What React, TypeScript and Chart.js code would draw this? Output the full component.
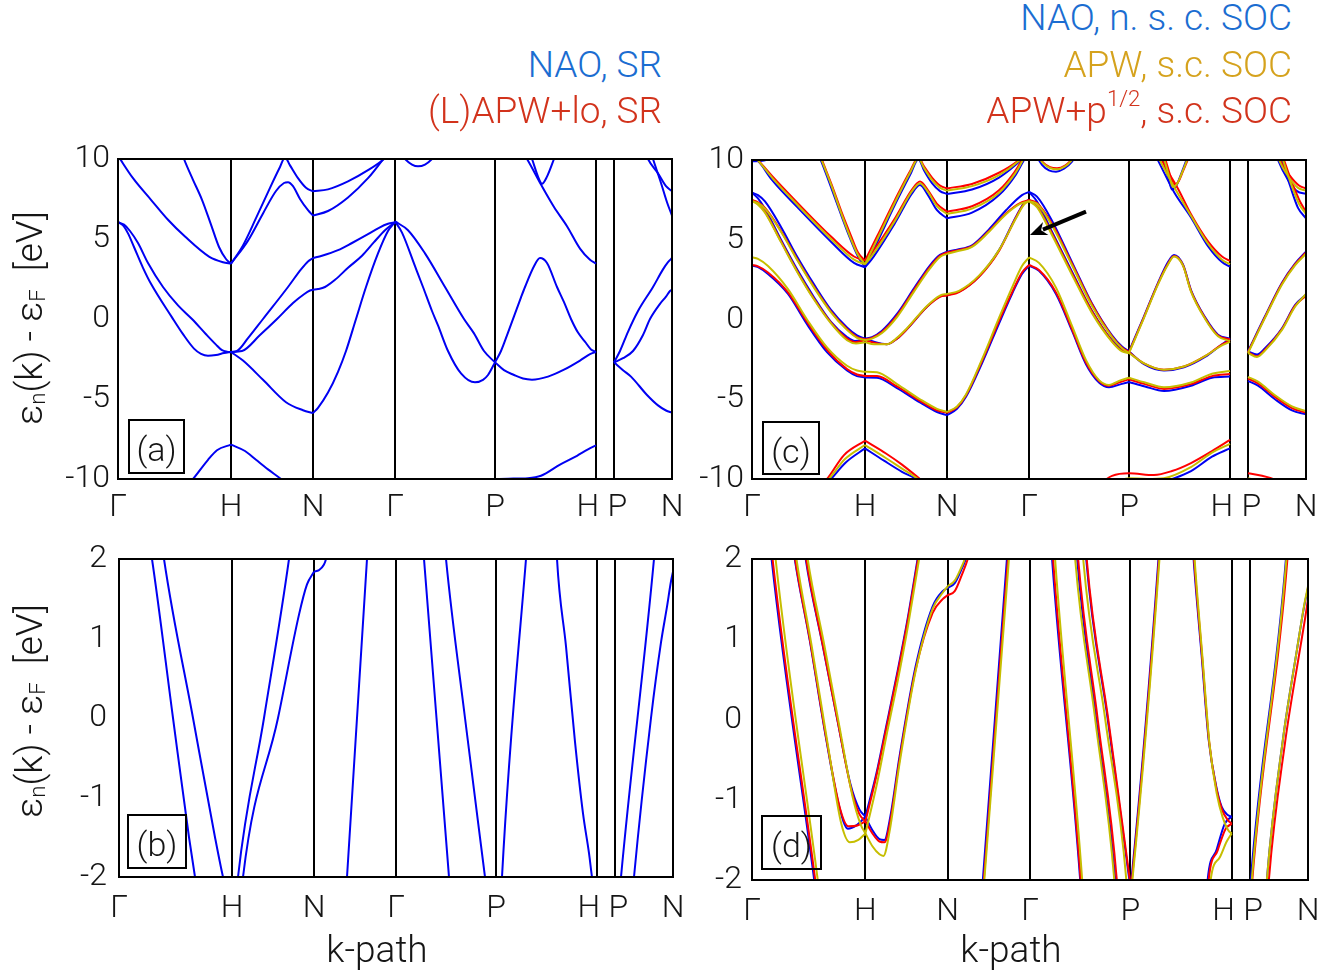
import React, { useEffect, useRef } from 'react';
import { Chart, registerables } from 'chart.js';

Chart.register(...registerables);

type Pt = [number, number];

const FONT = "Roboto, 'Open Sans', Lato, 'Liberation Sans', sans-serif";

// ---- k-path (high-symmetry points) ----
const kTicks = [0, 1.13, 1.95, 2.77, 3.77, 4.78, 4.96, 5.54];
const kLabels = ['Γ', 'H', 'N', 'Γ', 'P', 'H', 'P', 'N'];
const eTicksFull = [-10, -5, 0, 5, 10];
const eTicksZoom = [-2, -1, 0, 1, 2];

// ---- panel (a): NAO, SR (blue) ----
const bandsA_SR: Pt[][] = [
  [[0.45, -12], [0.6, -11], [0.75, -10], [0.9, -8.8], [0.99, -8.2], [1.13, -7.85]],
  [[1.13, -7.85], [1.27, -8.25], [1.38, -8.8], [1.5, -9.4], [1.63, -10], [1.8, -10.9]],
  [[3.5, -10.6], [3.7, -10.05], [3.77, -10.0]],
  [[3.77, -10.0], [3.9, -9.98], [4.1, -9.95], [4.23, -9.8], [4.42, -9.1], [4.59, -8.55], [4.7, -8.15], [4.78, -7.9]],
  [[4.96, -9.98], [5.05, -10.2], [5.2, -10.8]],
  [[0, 6.05], [0.05, 5.85], [0.1, 5.35], [0.16, 4.5], [0.25, 3.2], [0.33, 2.2], [0.54, 0.1], [0.65, -0.95], [0.76, -1.85], [0.83, -2.18], [0.9, -2.3], [0.98, -2.25], [1.06, -2.13], [1.13, -2.06]],
  [[0, 6.05], [0.06, 5.9], [0.12, 5.5], [0.2, 4.75], [0.3, 3.5], [0.45, 2.0], [0.6, 0.85], [0.74, 0.0], [0.88, -0.95], [0.98, -1.6], [1.04, -1.95], [1.09, -2.04], [1.13, -2.06]],
  [[0, 10.2], [0.15, 8.8], [0.33, 7.45], [0.5, 6.2], [0.67, 5.15], [0.91, 3.9], [1.05, 3.55], [1.13, 3.46]],
  [[0.58, 11.5], [0.66, 10.0], [0.75, 8.7], [0.84, 7.45], [0.93, 5.9], [1.01, 4.5], [1.08, 3.75], [1.13, 3.46]],
  [[1.13, -2.06], [1.25, -2.6], [1.45, -3.8], [1.68, -5.2], [1.85, -5.7], [1.95, -5.88]],
  [[1.13, -2.06], [1.19, -2.0], [1.3, -1.2], [1.45, 0.0], [1.7, 2.0], [1.83, 3.1], [1.9, 3.6], [1.95, 3.81]],
  [[1.13, -2.06], [1.24, -2.0], [1.42, -1.0], [1.59, 0.0], [1.75, 1.0], [1.86, 1.55], [1.92, 1.78], [1.95, 1.83]],
  [[1.13, 3.46], [1.25, 4.6], [1.38, 6.3], [1.52, 8.2], [1.62, 9.5], [1.67, 10.1], [1.72, 9.6], [1.8, 8.8], [1.88, 8.2], [1.95, 7.98]],
  [[1.13, 3.46], [1.3, 4.9], [1.45, 6.6], [1.58, 8.0], [1.66, 8.5], [1.7, 8.55], [1.75, 8.3], [1.82, 7.5], [1.9, 6.8], [1.95, 6.46]],
  [[1.95, -5.88], [2.0, -5.55], [2.1, -4.6], [2.2, -3.3], [2.28, -2.0], [2.38, 0.0], [2.48, 2.0], [2.6, 4.1], [2.7, 5.5], [2.77, 6.05]],
  [[1.95, 3.81], [2.04, 3.95], [2.2, 4.3], [2.34, 4.75], [2.5, 5.3], [2.61, 5.7], [2.7, 5.95], [2.77, 6.05]],
  [[1.95, 1.83], [2.0, 1.87], [2.07, 2.0], [2.17, 2.45], [2.3, 3.2], [2.44, 3.95], [2.56, 4.8], [2.67, 5.55], [2.77, 6.05]],
  [[1.95, 7.98], [2.1, 8.1], [2.3, 8.6], [2.5, 9.3], [2.66, 10.0], [2.72, 10.4]],
  [[1.95, 6.46], [2.1, 6.75], [2.3, 7.6], [2.5, 8.8], [2.64, 9.9], [2.72, 10.6]],
  [[2.77, 6.1], [2.84, 5.4], [2.97, 3.3], [3.05, 2.0], [3.14, 0.5], [3.2, -0.4], [3.3, -2.0], [3.43, -3.4], [3.57, -3.96], [3.65, -3.8], [3.7, -3.5], [3.77, -2.71]],
  [[2.77, 6.1], [2.9, 5.55], [3.07, 4.1], [3.27, 2.0], [3.46, 0.0], [3.56, -0.9], [3.66, -2.0], [3.77, -2.71]],
  [[2.83, 10.3], [2.87, 10.0], [2.94, 9.65], [3.0, 9.54], [3.07, 9.65], [3.14, 10.0], [3.18, 10.3]],
  [[3.77, -2.71], [3.83, -2.0], [3.9, -0.85], [4.03, 1.35], [4.07, 2.0], [4.16, 3.3], [4.22, 3.81], [4.29, 3.5], [4.39, 2.0], [4.46, 1.05], [4.53, 0.0], [4.6, -0.85], [4.68, -1.5], [4.73, -1.9], [4.78, -2.06]],
  [[3.77, -2.71], [3.86, -3.2], [3.96, -3.5], [4.05, -3.72], [4.14, -3.79], [4.3, -3.6], [4.46, -3.17], [4.62, -2.6], [4.72, -2.2], [4.78, -2.06]],
  [[3.98, 11.0], [4.09, 10.0], [4.23, 8.4], [4.36, 7.0], [4.49, 5.8], [4.62, 4.4], [4.72, 3.7], [4.78, 3.46]],
  [[4.06, 11.2], [4.14, 10.0], [4.2, 8.9], [4.24, 8.45], [4.29, 8.9], [4.36, 10.0], [4.42, 11.0]],
  [[4.96, -2.71], [5.02, -2.0], [5.1, -0.8], [5.2, 0.5], [5.35, 2.0], [5.45, 3.1], [5.5, 3.55], [5.54, 3.81]],
  [[4.96, -2.71], [5.05, -2.45], [5.15, -2.0], [5.25, -1.0], [5.32, 0.0], [5.42, 0.95], [5.48, 1.4], [5.52, 1.75], [5.54, 1.83]],
  [[4.96, -2.71], [5.05, -3.2], [5.13, -3.6], [5.29, -4.75], [5.4, -5.4], [5.48, -5.72], [5.54, -5.85]],
  [[5.25, 10.8], [5.3, 10.0], [5.4, 9.1], [5.48, 8.3], [5.54, 7.98]],
  [[5.3, 11.0], [5.35, 10.0], [5.43, 8.5], [5.49, 7.3], [5.54, 6.46]],
];

// ---- panel (b): NAO, SR near the Fermi level ----
const bandsB_SR: Pt[][] = [
  [[0.29, 2.3], [0.33, 2.0], [0.54, 0.0], [0.7, -1.5], [0.76, -2.0], [0.8, -2.3]],
  [[0.42, 2.3], [0.45, 2.0], [0.74, 0.0], [0.96, -1.5], [1.04, -2.0], [1.08, -2.2]],
  [[1.17, -2.3], [1.19, -2.0], [1.45, 0.0], [1.7, 2.0], [1.73, 2.3]],
  [[1.22, -2.3], [1.24, -2.0], [1.59, 0.0], [1.8, 1.3], [1.88, 1.68], [1.95, 1.84]],
  [[1.95, 1.84], [2.0, 1.86], [2.05, 1.93], [2.07, 2.0], [2.1, 2.2]],
  [[2.26, -2.3], [2.28, -2.0], [2.48, 2.0], [2.5, 2.3]],
  [[3.03, 2.3], [3.05, 2.0], [3.3, -2.0], [3.32, -2.3]],
  [[3.25, 2.3], [3.27, 2.0], [3.46, 0.0], [3.66, -2.0], [3.68, -2.2]],
  [[3.82, -2.3], [3.83, -2.0], [4.07, 2.0], [4.09, 2.3]],
  [[4.37, 2.3], [4.38, 2.0], [4.47, 0.9], [4.56, -0.3], [4.64, -1.2], [4.7, -1.7], [4.73, -2.0], [4.75, -2.15]],
  [[5.0, -2.3], [5.02, -2.0], [5.35, 2.0], [5.37, 2.3]],
  [[5.13, -2.3], [5.15, -2.0], [5.32, 0.0], [5.42, 0.95], [5.48, 1.4], [5.52, 1.72], [5.54, 1.84]],
];

// ---- panel (c): SOC, three methods ----
const bandsC_NAO: Pt[][] = [
  [[0, 9.92], [0.12, 9.97], [0.25, 10.3]],
  [[0, 10.3], [0.08, 9.8], [0.2, 8.75], [0.46, 7.0], [0.79, 4.88], [1.02, 3.55], [1.13, 3.27]],
  [[0.62, 11.0], [0.687, 10.0], [0.79, 8.3], [0.885, 6.66], [0.98, 5.1], [1.06, 3.95], [1.13, 3.27]],
  [[1.13, 3.27], [1.25, 4.8], [1.43, 7.2], [1.58, 9.05], [1.665, 10.05], [1.72, 9.35], [1.8, 8.55], [1.88, 8.05], [1.95, 7.87]],
  [[1.13, 3.27], [1.2, 3.8], [1.43, 6.05], [1.6, 7.9], [1.68, 8.43], [1.76, 7.8], [1.85, 6.85], [1.95, 6.34]],
  [[1.95, 7.87], [2.2, 8.15], [2.47, 8.9], [2.69, 10.0], [2.75, 10.4]],
  [[1.95, 6.34], [2.2, 6.7], [2.47, 7.8], [2.64, 9.1], [2.72, 10.0], [2.77, 10.5]],
  [[2.84, 10.3], [2.9, 9.7], [2.97, 9.35], [3.04, 9.27], [3.12, 9.45], [3.2, 9.9], [3.24, 10.3]],
  [[0, 7.95], [0.06, 7.8], [0.13, 7.4], [0.29, 5.8], [0.455, 3.9], [0.62, 2.2], [0.79, 0.6], [0.95, -0.5], [1.05, -1.0], [1.13, -1.2]],
  [[0, 7.95], [0.06, 7.6], [0.13, 6.95], [0.29, 5.0], [0.455, 3.1], [0.62, 1.4], [0.79, -0.15], [0.95, -1.1], [1.03, -1.35], [1.13, -1.2]],
  [[1.13, -1.2], [1.2, -1.1], [1.3, -0.7], [1.45, 0.35], [1.62, 1.95], [1.78, 3.4], [1.88, 4.05], [1.95, 4.25]],
  [[1.13, -1.2], [1.22, -1.4], [1.35, -1.55], [1.45, -1.2], [1.55, -0.6], [1.75, 0.8], [1.88, 1.45], [1.95, 1.55]],
  [[1.95, 4.25], [2.05, 4.38], [2.2, 4.65], [2.37, 5.65], [2.54, 6.85], [2.7, 7.8], [2.77, 8.0]],
  [[1.95, 1.55], [2.07, 1.75], [2.27, 2.7], [2.47, 4.35], [2.64, 6.45], [2.72, 7.3], [2.77, 7.5]],
  [[0, 3.38], [0.06, 3.28], [0.16, 2.85], [0.36, 1.6], [0.55, -0.3], [0.75, -2.05], [0.95, -3.2], [1.05, -3.55], [1.13, -3.63]],
  [[1.13, -3.63], [1.25, -3.65], [1.45, -4.3], [1.68, -5.2], [1.85, -5.8], [1.95, -6.0]],
  [[1.95, -6.0], [2.05, -5.6], [2.14, -4.85], [2.3, -2.75], [2.47, -0.25], [2.6, 1.6], [2.7, 2.85], [2.77, 3.38]],
  [[2.77, 3.38], [2.87, 3.05], [3.04, 1.6], [3.2, -0.7], [3.34, -2.8], [3.47, -3.95], [3.57, -4.25], [3.69, -4.05], [3.77, -3.92]],
  [[3.77, -3.92], [3.93, -4.2], [4.12, -4.48], [4.39, -4.15], [4.6, -3.65], [4.78, -3.58]],
  [[4.96, -3.85], [5.06, -4.15], [5.23, -5.0], [5.4, -5.7], [5.54, -5.95]],
  [[2.77, 8.0], [2.85, 7.7], [3.0, 6.2], [3.2, 3.6], [3.4, 1.0], [3.6, -1.0], [3.7, -1.7], [3.77, -2.0]],
  [[2.77, 8.0], [2.85, 7.4], [3.0, 5.5], [3.2, 3.0], [3.4, 0.55], [3.6, -1.3], [3.7, -1.85], [3.77, -2.0]],
  [[3.77, -2.0], [3.92, 0.2], [4.06, 2.3], [4.16, 3.6], [4.22, 4.05], [4.31, 3.45], [4.39, 1.85], [4.53, 0.15], [4.66, -0.95], [4.78, -1.2]],
  [[3.77, -2.0], [3.92, -2.8], [4.12, -3.2], [4.32, -3.0], [4.53, -2.35], [4.69, -1.6], [4.78, -1.2]],
  [[3.98, 11.0], [4.09, 9.6], [4.22, 8.0], [4.39, 6.4], [4.56, 4.6], [4.7, 3.6], [4.78, 3.31]],
  [[4.08, 10.8], [4.13, 9.6], [4.17, 8.7], [4.2, 8.15], [4.24, 8.35], [4.29, 9.1], [4.35, 10.1], [4.39, 10.8]],
  [[4.96, -2.0], [5.13, 0.2], [5.3, 2.3], [5.43, 3.5], [5.54, 4.25]],
  [[4.96, -2.0], [5.05, -2.2], [5.13, -1.8], [5.3, -0.55], [5.43, 0.9], [5.54, 1.55]],
  [[5.22, 10.8], [5.26, 10.0], [5.36, 8.75], [5.45, 8.05], [5.54, 7.87]],
  [[5.26, 10.8], [5.3, 10.0], [5.38, 8.4], [5.46, 7.0], [5.54, 6.34]],
  [[0.55, -11.6], [0.79, -10], [0.94, -8.95], [1.13, -8.08]],
  [[1.13, -8.08], [1.32, -8.85], [1.5, -9.55], [1.64, -10], [1.85, -11.2]],
  [[3.95, -10.5], [4.2, -10.0], [4.39, -9.5], [4.6, -8.6], [4.78, -8.08]],
];

const bandsC_APW: Pt[][] = [
  [[0, 10.35], [0.07, 9.9], [0.2, 8.9], [0.46, 7.15], [0.79, 5.05], [1.02, 3.75], [1.13, 3.46]],
  [[0.63, 11.0], [0.695, 10.0], [0.8, 8.3], [0.89, 6.7], [0.98, 5.2], [1.06, 4.05], [1.13, 3.46]],
  [[1.13, 3.46], [1.25, 5.0], [1.43, 7.35], [1.58, 9.2], [1.665, 10.1], [1.72, 9.5], [1.8, 8.75], [1.88, 8.25], [1.95, 8.08]],
  [[1.13, 3.46], [1.2, 4.0], [1.43, 6.2], [1.6, 8.05], [1.68, 8.55], [1.76, 8.0], [1.85, 7.1], [1.95, 6.61]],
  [[1.95, 8.08], [2.2, 8.36], [2.47, 9.05], [2.68, 10.0], [2.75, 10.45]],
  [[1.95, 6.61], [2.2, 6.95], [2.47, 7.95], [2.63, 9.15], [2.71, 10.0], [2.76, 10.5]],
  [[2.85, 10.35], [2.91, 9.8], [2.98, 9.5], [3.05, 9.42], [3.13, 9.6], [3.2, 10.0], [3.24, 10.35]],
  [[0, 7.42], [0.06, 7.3], [0.13, 6.95], [0.29, 5.5], [0.455, 3.7], [0.62, 2.0], [0.79, 0.45], [0.95, -0.65], [1.05, -1.15], [1.13, -1.3]],
  [[0, 7.42], [0.06, 7.2], [0.13, 6.7], [0.29, 4.85], [0.455, 2.95], [0.62, 1.25], [0.79, -0.25], [0.95, -1.3], [1.04, -1.5], [1.13, -1.42]],
  [[1.13, -1.3], [1.2, -1.2], [1.3, -0.85], [1.45, 0.15], [1.62, 1.75], [1.78, 3.2], [1.88, 3.92], [1.95, 4.12]],
  [[1.13, -1.42], [1.22, -1.55], [1.35, -1.55], [1.45, -1.15], [1.55, -0.55], [1.75, 0.85], [1.88, 1.5], [1.95, 1.6]],
  [[1.95, 4.12], [2.05, 4.28], [2.2, 4.55], [2.37, 5.5], [2.54, 6.6], [2.68, 7.25], [2.77, 7.42]],
  [[1.95, 1.6], [2.07, 1.8], [2.27, 2.75], [2.47, 4.35], [2.64, 6.35], [2.72, 7.2], [2.77, 7.42]],
  [[0, 3.9], [0.06, 3.8], [0.16, 3.35], [0.36, 1.9], [0.55, 0.0], [0.75, -1.75], [0.95, -2.9], [1.05, -3.2], [1.13, -3.27]],
  [[1.13, -3.27], [1.25, -3.3], [1.45, -4.05], [1.68, -5.0], [1.85, -5.6], [1.95, -5.8]],
  [[1.95, -5.8], [2.05, -5.45], [2.14, -4.7], [2.3, -2.5], [2.47, 0.1], [2.6, 2.0], [2.7, 3.35], [2.77, 3.9]],
  [[2.77, 3.9], [2.87, 3.55], [3.04, 2.0], [3.2, -0.4], [3.34, -2.55], [3.47, -3.8], [3.57, -4.1], [3.69, -3.8], [3.77, -3.65]],
  [[3.77, -3.65], [3.93, -3.95], [4.12, -4.25], [4.39, -3.95], [4.6, -3.4], [4.78, -3.23]],
  [[4.96, -3.6], [5.06, -3.9], [5.23, -4.75], [5.4, -5.45], [5.54, -5.75]],
  [[2.77, 7.42], [2.85, 7.25], [3.0, 5.9], [3.2, 3.4], [3.4, 0.85], [3.6, -1.1], [3.7, -1.8], [3.77, -2.1]],
  [[2.77, 7.42], [2.85, 7.05], [3.0, 5.3], [3.2, 2.8], [3.4, 0.4], [3.6, -1.4], [3.7, -2.0], [3.77, -2.1]],
  [[3.77, -2.1], [3.92, 0.1], [4.06, 2.2], [4.16, 3.45], [4.22, 3.95], [4.31, 3.38], [4.39, 1.75], [4.53, 0.05], [4.66, -1.05], [4.78, -1.35]],
  [[3.77, -2.1], [3.92, -2.75], [4.12, -3.15], [4.32, -2.95], [4.53, -2.3], [4.69, -1.65], [4.78, -1.4]],
  [[4.0, 11.0], [4.11, 9.6], [4.24, 8.1], [4.39, 6.5], [4.56, 4.75], [4.7, 3.75], [4.78, 3.46]],
  [[4.09, 10.8], [4.14, 9.65], [4.18, 8.8], [4.21, 8.3], [4.25, 8.5], [4.3, 9.2], [4.36, 10.15], [4.4, 10.8]],
  [[4.96, -2.1], [5.13, 0.1], [5.3, 2.2], [5.43, 3.4], [5.54, 4.12]],
  [[4.96, -2.1], [5.05, -2.35], [5.13, -1.95], [5.3, -0.65], [5.43, 0.8], [5.54, 1.6]],
  [[5.23, 10.8], [5.27, 10.0], [5.37, 8.9], [5.46, 8.25], [5.54, 8.08]],
  [[5.27, 10.8], [5.31, 10.0], [5.39, 8.5], [5.47, 7.25], [5.54, 6.61]],
  [[0.55, -11.4], [0.77, -10], [0.93, -8.75], [1.13, -7.87]],
  [[1.13, -7.87], [1.33, -8.65], [1.5, -9.35], [1.66, -10], [1.85, -11]],
  [[3.6, -10.3], [3.77, -9.95], [3.95, -10.0], [4.12, -9.95], [4.39, -9.25], [4.6, -8.35], [4.78, -7.8]],
  [[4.96, -9.95], [5.1, -10.15], [5.25, -10.5]],
];

const bandsC_APWp: Pt[][] = [
  [[0, 10.42], [0.06, 10.0], [0.2, 9.0], [0.46, 7.28], [0.79, 5.2], [1.02, 3.95], [1.13, 3.69]],
  [[0.64, 11.0], [0.7, 10.0], [0.8, 8.4], [0.895, 6.75], [0.99, 5.25], [1.06, 4.2], [1.13, 3.69]],
  [[1.13, 3.69], [1.25, 5.2], [1.43, 7.5], [1.58, 9.3], [1.665, 10.15], [1.72, 9.6], [1.8, 8.9], [1.88, 8.4], [1.95, 8.22]],
  [[1.13, 3.69], [1.2, 4.2], [1.43, 6.35], [1.6, 8.15], [1.68, 8.65], [1.76, 8.1], [1.85, 7.25], [1.95, 6.76]],
  [[1.95, 8.22], [2.2, 8.5], [2.47, 9.2], [2.67, 10.0], [2.75, 10.5]],
  [[1.95, 6.76], [2.2, 7.1], [2.47, 8.1], [2.62, 9.2], [2.7, 10.0], [2.75, 10.6]],
  [[2.85, 10.4], [2.91, 9.85], [2.98, 9.55], [3.05, 9.48], [3.13, 9.65], [3.2, 10.05], [3.24, 10.4]],
  [[0, 7.49], [0.06, 7.35], [0.13, 7.0], [0.29, 5.55], [0.455, 3.75], [0.62, 2.05], [0.79, 0.5], [0.95, -0.6], [1.05, -1.1], [1.13, -1.25]],
  [[0, 7.49], [0.06, 7.25], [0.13, 6.75], [0.29, 4.9], [0.455, 3.0], [0.62, 1.3], [0.79, -0.2], [0.95, -1.2], [1.03, -1.42], [1.13, -1.3]],
  [[1.13, -1.25], [1.2, -1.15], [1.3, -0.78], [1.45, 0.25], [1.62, 1.85], [1.78, 3.3], [1.88, 4.0], [1.95, 4.2]],
  [[1.13, -1.3], [1.22, -1.45], [1.35, -1.55], [1.45, -1.2], [1.55, -0.6], [1.75, 0.8], [1.88, 1.42], [1.95, 1.5]],
  [[1.95, 4.2], [2.05, 4.33], [2.2, 4.6], [2.37, 5.55], [2.54, 6.65], [2.68, 7.3], [2.77, 7.49]],
  [[1.95, 1.5], [2.07, 1.72], [2.27, 2.68], [2.47, 4.3], [2.64, 6.4], [2.72, 7.25], [2.77, 7.49]],
  [[0, 3.42], [0.06, 3.33], [0.16, 2.95], [0.36, 1.7], [0.55, -0.15], [0.75, -1.9], [0.95, -3.1], [1.05, -3.45], [1.13, -3.54]],
  [[1.13, -3.54], [1.25, -3.55], [1.45, -4.2], [1.68, -5.1], [1.85, -5.7], [1.95, -5.85]],
  [[1.95, -5.85], [2.05, -5.5], [2.14, -4.75], [2.3, -2.6], [2.47, -0.1], [2.6, 1.7], [2.7, 2.95], [2.77, 3.42]],
  [[2.77, 3.42], [2.87, 3.1], [3.04, 1.7], [3.2, -0.6], [3.34, -2.7], [3.47, -3.85], [3.57, -4.15], [3.69, -3.9], [3.77, -3.75]],
  [[3.77, -3.75], [3.93, -4.05], [4.12, -4.35], [4.39, -4.05], [4.6, -3.55], [4.78, -3.42]],
  [[4.96, -3.7], [5.06, -4.0], [5.23, -4.85], [5.4, -5.55], [5.54, -5.85]],
  [[2.77, 7.49], [2.85, 7.3], [3.0, 6.0], [3.2, 3.5], [3.4, 0.95], [3.6, -1.05], [3.7, -1.75], [3.77, -2.05]],
  [[2.77, 7.49], [2.85, 7.1], [3.0, 5.4], [3.2, 2.9], [3.4, 0.5], [3.6, -1.35], [3.7, -1.95], [3.77, -2.05]],
  [[3.77, -2.05], [3.92, 0.15], [4.06, 2.25], [4.16, 3.5], [4.22, 3.98], [4.31, 3.4], [4.39, 1.8], [4.53, 0.1], [4.66, -1.0], [4.78, -1.25]],
  [[3.77, -2.05], [3.92, -2.75], [4.12, -3.15], [4.32, -2.95], [4.53, -2.3], [4.69, -1.6], [4.78, -1.3]],
  [[4.02, 11.0], [4.13, 9.6], [4.26, 8.2], [4.39, 6.6], [4.56, 4.9], [4.7, 3.95], [4.78, 3.67]],
  [[4.1, 10.8], [4.15, 9.7], [4.19, 8.9], [4.22, 8.45], [4.26, 8.6], [4.31, 9.3], [4.37, 10.2], [4.41, 10.8]],
  [[4.96, -2.05], [5.13, 0.15], [5.3, 2.25], [5.43, 3.45], [5.54, 4.2]],
  [[4.96, -2.05], [5.05, -2.3], [5.13, -1.9], [5.3, -0.6], [5.43, 0.85], [5.54, 1.5]],
  [[5.24, 10.8], [5.28, 10.0], [5.38, 9.0], [5.47, 8.4], [5.54, 8.22]],
  [[5.28, 10.8], [5.32, 10.0], [5.4, 8.6], [5.48, 7.4], [5.54, 6.76]],
  [[0.55, -11.2], [0.75, -10], [0.92, -8.5], [1.13, -7.6]],
  [[1.13, -7.6], [1.34, -8.4], [1.5, -9.1], [1.68, -10], [1.85, -10.8]],
  [[3.5, -10.2], [3.6, -9.8], [3.77, -9.64], [4.02, -9.75], [4.2, -9.5], [4.39, -9.0], [4.6, -8.25], [4.78, -7.55]],
  [[4.96, -9.64], [5.1, -9.8], [5.23, -10.05], [5.4, -10.6]],
];

// ---- panel (d): SOC near the Fermi level ----
const bandsD_NAO: Pt[][] = [
  [[0.18, 2.2], [0.195, 2.0], [0.62, -2.0], [0.64, -2.2]],
  [[0.41, 2.15], [0.426, 2.0], [0.575, 0.99], [0.74, -0.25], [0.87, -1.09], [0.955, -1.36], [1.04, -1.32], [1.13, -1.21]],
  [[0.52, 2.15], [0.535, 2.0], [0.7, 0.95], [0.85, 0.0], [0.98, -0.8], [1.07, -1.12], [1.13, -1.21]],
  [[1.13, -1.21], [1.24, -0.67], [1.335, -0.1], [1.45, 0.6], [1.55, 1.25], [1.65, 2.0], [1.67, 2.15]],
  [[1.13, -1.21], [1.2, -1.38], [1.27, -1.49], [1.32, -1.5], [1.38, -1.2], [1.47, -0.46], [1.63, 0.66], [1.8, 1.41], [1.9, 1.6], [1.95, 1.64]],
  [[1.95, 1.64], [2.02, 1.7], [2.08, 1.85], [2.13, 2.0], [2.16, 2.15]],
  [[2.29, -2.2], [2.3, -2.0], [2.54, 2.0], [2.55, 2.2]],
  [[2.98, 2.2], [2.99, 2.0], [3.27, -2.0], [3.28, -2.2]],
  [[3.23, 2.2], [3.24, 2.0], [3.43, 0.0], [3.62, -2.0], [3.63, -2.2]],
  [[3.32, 2.2], [3.33, 2.0], [3.545, 0.0], [3.76, -2.0], [3.77, -2.1]],
  [[3.77, -2.1], [3.78, -2.0], [4.05, 2.0], [4.06, 2.2]],
  [[4.39, 2.2], [4.4, 2.0], [4.48, 0.8], [4.55, -0.25], [4.62, -0.8], [4.68, -1.09], [4.74, -1.19], [4.78, -1.21]],
  [[4.53, -2.2], [4.54, -2.0], [4.63, -1.62], [4.71, -1.3], [4.78, -1.21]],
  [[4.96, -2.2], [4.97, -2.0], [5.32, 2.0], [5.33, 2.2]],
  [[5.12, -2.2], [5.13, -2.0], [5.29, -0.25], [5.43, 0.87], [5.5, 1.4], [5.54, 1.64]],
];

const bandsD_APW: Pt[][] = [
  [[0.22, 2.2], [0.235, 2.0], [0.655, -2.0], [0.675, -2.2]],
  [[0.428, 2.15], [0.443, 2.0], [0.59, 0.95], [0.76, -0.35], [0.89, -1.3], [0.975, -1.53], [1.06, -1.5], [1.13, -1.42]],
  [[0.54, 2.15], [0.555, 2.0], [0.72, 0.93], [0.87, -0.08], [1.0, -0.95], [1.08, -1.3], [1.13, -1.42]],
  [[1.13, -1.42], [1.245, -0.8], [1.34, -0.2], [1.455, 0.5], [1.555, 1.17], [1.665, 2.0], [1.685, 2.15]],
  [[1.13, -1.42], [1.2, -1.58], [1.27, -1.68], [1.31, -1.7], [1.37, -1.4], [1.47, -0.55], [1.63, 0.6], [1.8, 1.38], [1.9, 1.58], [1.95, 1.66]],
  [[1.95, 1.66], [2.02, 1.73], [2.08, 1.88], [2.12, 2.0], [2.15, 2.15]],
  [[2.305, -2.2], [2.315, -2.0], [2.56, 2.0], [2.57, 2.2]],
  [[3.01, 2.2], [3.02, 2.0], [3.29, -2.0], [3.3, -2.2]],
  [[3.21, 2.2], [3.22, 2.0], [3.42, 0.0], [3.61, -2.0], [3.62, -2.2]],
  [[3.29, 2.2], [3.3, 2.0], [3.52, 0.0], [3.73, -2.0], [3.74, -2.2]],
  [[3.78, -2.1], [3.79, -2.0], [4.06, 2.0], [4.07, 2.2]],
  [[4.4, 2.2], [4.41, 2.0], [4.49, 0.75], [4.56, -0.32], [4.63, -0.92], [4.69, -1.22], [4.745, -1.38], [4.78, -1.42]],
  [[4.56, -2.2], [4.57, -2.0], [4.66, -1.72], [4.73, -1.52], [4.78, -1.42]],
  [[4.97, -2.2], [4.98, -2.0], [5.325, 2.0], [5.335, 2.2]],
  [[5.12, -2.2], [5.13, -2.0], [5.29, -0.25], [5.43, 0.87], [5.5, 1.41], [5.54, 1.66]],
];

const bandsD_APWp: Pt[][] = [
  [[0.19, 2.2], [0.205, 2.0], [0.63, -2.0], [0.65, -2.2]],
  [[0.415, 2.15], [0.43, 2.0], [0.58, 0.97], [0.745, -0.27], [0.875, -1.1], [0.96, -1.33], [1.05, -1.32], [1.13, -1.27]],
  [[0.525, 2.15], [0.54, 2.0], [0.705, 0.93], [0.855, -0.03], [0.985, -0.85], [1.07, -1.18], [1.13, -1.27]],
  [[1.13, -1.27], [1.24, -0.7], [1.335, -0.13], [1.45, 0.57], [1.55, 1.22], [1.655, 2.0], [1.675, 2.15]],
  [[1.13, -1.27], [1.2, -1.42], [1.27, -1.52], [1.32, -1.53], [1.38, -1.25], [1.47, -0.5], [1.63, 0.62], [1.8, 1.33], [1.9, 1.5], [1.95, 1.55]],
  [[1.95, 1.55], [2.02, 1.6], [2.09, 1.8], [2.15, 2.0], [2.18, 2.15]],
  [[2.3, -2.2], [2.31, -2.0], [2.55, 2.0], [2.56, 2.2]],
  [[2.99, 2.2], [3.0, 2.0], [3.275, -2.0], [3.285, -2.2]],
  [[3.24, 2.2], [3.25, 2.0], [3.445, 0.0], [3.635, -2.0], [3.645, -2.2]],
  [[3.325, 2.2], [3.335, 2.0], [3.55, 0.0], [3.765, -2.0], [3.775, -2.1]],
  [[3.775, -2.1], [3.785, -2.0], [4.055, 2.0], [4.065, 2.2]],
  [[4.395, 2.2], [4.405, 2.0], [4.485, 0.78], [4.555, -0.28], [4.625, -0.85], [4.685, -1.13], [4.74, -1.25], [4.78, -1.3]],
  [[4.54, -2.2], [4.55, -2.0], [4.64, -1.63], [4.72, -1.36], [4.78, -1.3]],
  [[4.975, -2.2], [4.985, -2.0], [5.335, 2.0], [5.345, 2.2]],
  [[5.14, -2.2], [5.15, -2.0], [5.31, -0.3], [5.45, 0.8], [5.51, 1.25], [5.54, 1.5]],
];

// arrow annotation in panel (c), data coordinates (k, E)
const arrowTail: Pt = [3.34, 6.76];
const arrowTip: Pt = [2.78, 5.3];

const LINE_BLUE = '#0000f2';
const LINE_RED = '#ff0000';
const LINE_YELLOW = '#c6be00';
const TXT_BLUE = '#1b6dd1';
const TXT_GOLD = '#d5a21d';
const TXT_RED = '#d2331c';

type Group = { lines: Pt[][]; color: string; order: number };
type PanelProps = {
  left: number; top: number; width: number; height: number;
  padTop: number; padRight: number; yWidth: number; xHeight: number;
  yMin: number; yMax: number; yTicks: number[]; yPad: number; xPad: number;
  groups: Group[]; arrow?: boolean;
};

const framePlugin = {
  id: 'frame',
  afterDatasetsDraw(chart: any) {
    const { ctx, chartArea } = chart;
    ctx.save();
    ctx.strokeStyle = '#000';
    ctx.lineWidth = 2;
    ctx.strokeRect(chartArea.left, chartArea.top, chartArea.right - chartArea.left, chartArea.bottom - chartArea.top);
    ctx.restore();
  },
};

const arrowPlugin = {
  id: 'arrow',
  afterDatasetsDraw(chart: any) {
    const { ctx } = chart;
    const xs = chart.scales.x;
    const ys = chart.scales.y;
    const x1 = xs.getPixelForValue(arrowTail[0]);
    const y1 = ys.getPixelForValue(arrowTail[1]);
    const x2 = xs.getPixelForValue(arrowTip[0]);
    const y2 = ys.getPixelForValue(arrowTip[1]);
    const ang = Math.atan2(y2 - y1, x2 - x1);
    const headLen = 17;
    const headW = 7;
    const bx = x2 - headLen * Math.cos(ang);
    const by = y2 - headLen * Math.sin(ang);
    ctx.save();
    ctx.strokeStyle = '#000';
    ctx.fillStyle = '#000';
    ctx.lineWidth = 4;
    ctx.beginPath();
    ctx.moveTo(x1, y1);
    ctx.lineTo(bx + 3 * Math.cos(ang), by + 3 * Math.sin(ang));
    ctx.stroke();
    ctx.beginPath();
    ctx.moveTo(x2, y2);
    ctx.lineTo(bx + headW * Math.sin(ang), by - headW * Math.cos(ang));
    ctx.lineTo(bx + 5 * Math.cos(ang), by + 5 * Math.sin(ang));
    ctx.lineTo(bx - headW * Math.sin(ang), by + headW * Math.cos(ang));
    ctx.closePath();
    ctx.fill();
    ctx.restore();
  },
};

const xLabel = (i: number) => {
  const t = kLabels[i] ?? '';
  if (i === 5) return t + '\u2002';
  if (i === 6) return '\u2009' + t;
  return t;
};

function BandPanel(p: PanelProps) {
  const ref = useRef<HTMLCanvasElement | null>(null);
  useEffect(() => {
    if (!ref.current) return;
    const datasets: any[] = [];
    p.groups.forEach((g) => {
      g.lines.forEach((line) => {
        datasets.push({
          data: line.map(([x, y]) => ({ x, y })),
          borderColor: g.color,
          borderWidth: 2,
          pointRadius: 0,
          fill: false,
          cubicInterpolationMode: 'monotone',
          order: g.order,
          clip: 0,
        });
      });
    });
    const tickFont = { family: FONT, size: 32, weight: '300' };
    const chart = new Chart(ref.current, {
      type: 'line',
      data: { datasets },
      options: {
        responsive: false,
        maintainAspectRatio: false,
        animation: false,
        devicePixelRatio: 1,
        events: [],
        layout: { padding: { left: 0, top: p.padTop, right: p.padRight, bottom: 0 } },
        elements: { line: { capBezierPoints: false }, point: { radius: 0 } },
        plugins: { legend: { display: false }, tooltip: { enabled: false }, title: { display: false } },
        scales: {
          x: {
            type: 'linear',
            min: kTicks[0],
            max: kTicks[kTicks.length - 1],
            afterBuildTicks: (s: any) => { s.ticks = kTicks.map((v) => ({ value: v })); },
            afterFit: (s: any) => { s.height = p.xHeight; },
            grid: { color: '#000', lineWidth: 2, drawTicks: false },
            border: { display: false },
            ticks: {
              autoSkip: false, maxRotation: 0, minRotation: 0, padding: p.xPad,
              color: '#151515', font: tickFont,
              callback: (_v: any, i: number) => xLabel(i),
            },
          },
          y: {
            type: 'linear',
            min: p.yMin,
            max: p.yMax,
            afterBuildTicks: (s: any) => { s.ticks = p.yTicks.map((v) => ({ value: v })); },
            afterFit: (s: any) => { s.width = p.yWidth; },
            grid: { display: false, drawTicks: false },
            border: { display: false },
            ticks: { padding: p.yPad, color: '#151515', font: tickFont, callback: (v: any) => String(v) },
          },
        },
      } as any,
      plugins: p.arrow ? [framePlugin, arrowPlugin] : [framePlugin],
    } as any);
    return () => chart.destroy();
  }, []);
  return (
    <canvas
      ref={ref}
      width={p.width}
      height={p.height}
      style={{ position: 'absolute', left: p.left, top: p.top, width: p.width, height: p.height }}
    />
  );
}

const txt: React.CSSProperties = { position: 'absolute', whiteSpace: 'nowrap', fontFamily: FONT, fontWeight: 300 };
const LEGEND_SIZE = 37;

function Legend({ right, baseline, color, children }: { right: number; baseline: number; color: string; children: any }) {
  return (
    <div style={{ ...txt, right: 1340 - right, top: baseline - Math.round(0.842 * LEGEND_SIZE), fontSize: LEGEND_SIZE, lineHeight: `${LEGEND_SIZE}px`, color }}>{children}</div>
  );
}

function YTitle({ cx, cy }: { cx: number; cy: number }) {
  return (
    <div style={{ ...txt, left: cx - 170, top: cy - 22, width: 340, height: 44, lineHeight: '44px', textAlign: 'center', fontSize: 37, color: '#151515', transform: 'rotate(-90deg)' }}>
      ε<span style={{ fontSize: '0.6em', position: 'relative', top: '0.12em' }}>n</span>(k) - ε<span style={{ fontSize: '0.6em', position: 'relative', top: '0.12em' }}>F</span>{'\u00a0\u00a0'}[eV]
    </div>
  );
}

function XTitle({ cx, baseline }: { cx: number; baseline: number }) {
  return (
    <div style={{ ...txt, left: cx - 100, top: baseline - 31, width: 200, textAlign: 'center', fontSize: 37, lineHeight: '37px', color: '#151515' }}>k-path</div>
  );
}

function PanelTag({ left, top, w, h, label }: { left: number; top: number; w: number; h: number; label: string }) {
  return (
    <div style={{ ...txt, left, top, width: w, height: h, boxSizing: 'border-box', border: '2px solid #000', fontSize: 34, lineHeight: `${h - 4}px`, paddingTop: 3, textAlign: 'center', color: '#151515' }}>{label}</div>
  );
}

export default function App() {
  const soc = (nao: Pt[][], apw: Pt[][], apwp: Pt[][]): Group[] => [
    { lines: nao, color: LINE_BLUE, order: 3 },
    { lines: apwp, color: LINE_RED, order: 2 },
    { lines: apw, color: LINE_YELLOW, order: 1 },
  ];
  return (
    <div style={{ position: 'absolute', left: 0, top: 0, width: 1340, height: 975, background: '#fff', overflow: 'hidden' }}>
      <BandPanel left={0} top={120} width={700} height={420} padTop={39} padRight={28} yWidth={118} xHeight={61}
        yMin={-10} yMax={10} yTicks={eTicksFull} yPad={8} xPad={10}
        groups={[{ lines: bandsA_SR, color: LINE_BLUE, order: 1 }]} />
      <BandPanel left={690} top={120} width={650} height={420} padTop={40} padRight={34} yWidth={62} xHeight={61}
        yMin={-10} yMax={10} yTicks={eTicksFull} yPad={8} xPad={10}
        groups={soc(bandsC_NAO, bandsC_APW, bandsC_APWp)} arrow />
      <BandPanel left={0} top={520} width={700} height={455} padTop={39} padRight={27} yWidth={119} xHeight={98}
        yMin={-2} yMax={2} yTicks={eTicksZoom} yPad={12} xPad={13}
        groups={[{ lines: bandsB_SR, color: LINE_BLUE, order: 1 }]} />
      <BandPanel left={690} top={520} width={650} height={455} padTop={39} padRight={32} yWidth={62} xHeight={95}
        yMin={-2} yMax={2} yTicks={eTicksZoom} yPad={10} xPad={13}
        groups={soc(bandsD_NAO, bandsD_APW, bandsD_APWp)} />

      <Legend right={662} baseline={77} color={TXT_BLUE}>NAO, SR</Legend>
      <Legend right={662} baseline={123} color={TXT_RED}>(L)APW+lo, SR</Legend>
      <Legend right={1292} baseline={30} color={TXT_BLUE}>NAO, n. s. c. SOC</Legend>
      <Legend right={1292} baseline={77} color={TXT_GOLD}>APW, s.c. SOC</Legend>
      <Legend right={1292} baseline={123} color={TXT_RED}>
        APW+p<span style={{ fontSize: '0.6em', position: 'relative', top: '-0.75em' }}>1/2</span>, s.c. SOC
      </Legend>

      <YTitle cx={30} cy={318} />
      <YTitle cx={30} cy={711} />
      <XTitle cx={377} baseline={962} />
      <XTitle cx={1011} baseline={962} />

      <PanelTag left={128} top={419} w={57} h={55} label="(a)" />
      <PanelTag left={762} top={421} w={58} h={54} label="(c)" />
      <PanelTag left={127} top={814} w={60} h={55} label="(b)" />
      <PanelTag left={761} top={815} w={61} h={55} label="(d)" />
    </div>
  );
}
